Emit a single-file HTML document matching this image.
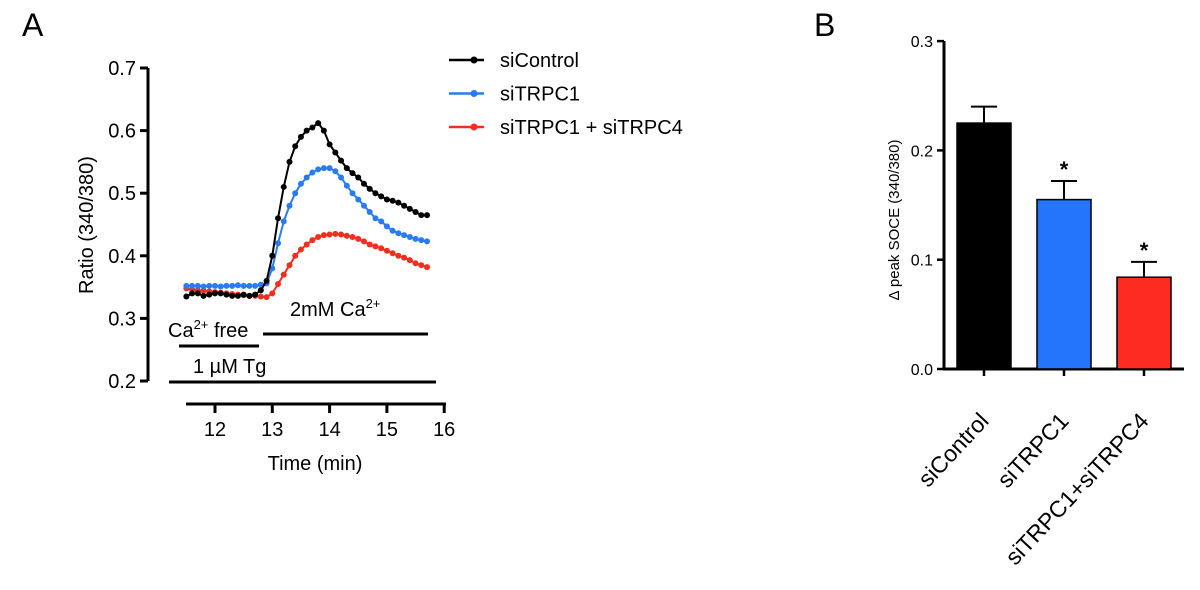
<!DOCTYPE html>
<html><head><meta charset="utf-8"><style>
body{margin:0;background:#fff;}
svg{display:block;font-family:"Liberation Sans",Arial,sans-serif;}
</style></head><body>
<svg id="chart" width="1200" height="590" viewBox="0 0 1200 590">
<text x="22" y="36" font-size="32">A</text>
<text x="814" y="36" font-size="32">B</text>
<g id="pa"></g>
<g id="pb"></g>
</svg>
<script>
const times=[11.5,11.6,11.7,11.8,11.9,12.0,12.1,12.2,12.3,12.4,12.5,12.6,12.7,12.8,12.9,13.0,13.1,13.2,13.3,13.4,13.5,13.6,13.7,13.8,13.9,14.0,14.1,14.2,14.3,14.4,14.5,14.6,14.7,14.8,14.9,15.0,15.1,15.2,15.3,15.4,15.5,15.6,15.7];
const siControl=[0.335,0.34,0.34,0.336,0.338,0.34,0.34,0.338,0.336,0.336,0.338,0.336,0.338,0.345,0.36,0.40,0.46,0.51,0.55,0.575,0.59,0.60,0.605,0.612,0.60,0.578,0.565,0.552,0.54,0.532,0.525,0.515,0.507,0.50,0.495,0.49,0.488,0.485,0.48,0.475,0.47,0.465,0.465];
const siTRPC1=[0.352,0.352,0.352,0.351,0.352,0.352,0.351,0.352,0.352,0.353,0.352,0.352,0.352,0.354,0.356,0.38,0.42,0.455,0.48,0.50,0.515,0.525,0.533,0.538,0.54,0.54,0.535,0.525,0.512,0.50,0.49,0.48,0.47,0.46,0.455,0.447,0.44,0.436,0.433,0.43,0.427,0.425,0.423];
const siTRPC14=[0.348,0.346,0.345,0.344,0.343,0.342,0.341,0.34,0.339,0.338,0.337,0.336,0.336,0.335,0.334,0.34,0.355,0.37,0.385,0.40,0.41,0.418,0.425,0.43,0.433,0.434,0.435,0.434,0.432,0.43,0.427,0.423,0.418,0.415,0.412,0.408,0.404,0.40,0.397,0.393,0.388,0.385,0.382];
const yTicksA=[0.2,0.3,0.4,0.5,0.6,0.7];
const xTicksA=[12,13,14,15,16];
const barCats=["siControl","siTRPC1","siTRPC1+siTRPC4"];
const barVals=[0.225,0.155,0.084];
const barErr=[0.015,0.017,0.014];
const barSig=[false,true,true];
const yTicksB=[0.0,0.1,0.2,0.3];

const NS="http://www.w3.org/2000/svg";
function mk(p,t,a,txt){const e=document.createElementNS(NS,t);for(const k in a)e.setAttribute(k,a[k]);if(txt!==undefined)e.textContent=txt;p.appendChild(e);return e;}
const xA=t=>215+(t-12)*57.3, yA=v=>381-(v-0.2)*626;
const pa=document.getElementById('pa');
let e=mk(pa,'line',{x1:148,y1:68,x2:148,y2:381,stroke:'#000','stroke-width':3});


yTicksA.forEach(v=>{mk(pa,'line',{x1:140,x2:148,y1:yA(v),y2:yA(v),stroke:'#000','stroke-width':3});
 let t=mk(pa,'text',{x:136,y:yA(v)+7,'font-size':20,'text-anchor':'end'},v.toFixed(1));
 
 });
e=mk(pa,'line',{x1:186,y1:404,x2:446,y2:404,stroke:'#000','stroke-width':3});


xTicksA.forEach(v=>{mk(pa,'line',{x1:xA(v),x2:xA(v),y1:404,y2:413,stroke:'#000','stroke-width':3});
 let t=mk(pa,'text',{x:xA(v),y:436,'font-size':20,'text-anchor':'middle'},v);
 
 });
e=mk(pa,'text',{x:0,y:0,'font-size':20,'text-anchor':'middle',transform:'translate(93,225) rotate(-90)'},'Ratio (340/380)');


e=mk(pa,'text',{x:315,y:470,'font-size':20,'text-anchor':'middle'},'Time (min)');


[[179,259,346],[263,428,334],[169,436,382]].forEach(l=>mk(pa,'line',{x1:l[0],x2:l[1],y1:l[2],y2:l[2],stroke:'#000','stroke-width':3}));
e=mk(pa,'text',{x:168,y:337,'font-size':20});e.innerHTML='Ca<tspan dy="-8" font-size="13">2+</tspan><tspan dy="8"> free</tspan>';


e=mk(pa,'text',{x:290,y:316,'font-size':20});e.innerHTML='2mM Ca<tspan dy="-8" font-size="13">2+</tspan>';


e=mk(pa,'text',{x:193,y:373,'font-size':20},'1 µM Tg');


const series=[[siControl,'#000','siControl','series-sicontrol'],[siTRPC1,'#2a7bf0','siTRPC1','series-sitrpc1'],[siTRPC14,'#f0301e','siTRPC1 + siTRPC4','series-sitrpc1-sitrpc4']];
series.slice().reverse().forEach(s=>{
 const g=mk(pa,'g',{});
 
 
 mk(g,'polyline',{points:times.map((t,i)=>xA(t)+','+yA(s[0][i])).join(' '),fill:'none',stroke:s[1],'stroke-width':2});
 times.forEach((t,i)=>mk(g,'circle',{cx:xA(t),cy:yA(s[0][i]),r:3,fill:s[1]}));
});
series.forEach((s,i)=>{const y=60+i*33.5;const g=mk(pa,'g',{});
 
 
 mk(g,'line',{x1:449,x2:484,y1:y,y2:y,stroke:s[1],'stroke-width':2.5});
 mk(g,'circle',{cx:474,cy:y,r:3.5,fill:s[1]});
 mk(g,'text',{x:500,y:y+7,'font-size':20},s[2]);});

const pb=document.getElementById('pb');
const yB=v=>369-v*1093, xB=i=>984+i*80;
e=mk(pb,'line',{x1:944,y1:41,x2:944,y2:370,stroke:'#000','stroke-width':3});


e=mk(pb,'line',{x1:943,y1:369,x2:1184,y2:369,stroke:'#000','stroke-width':3});


yTicksB.forEach(v=>{mk(pb,'line',{x1:937,x2:944,y1:yB(v),y2:yB(v),stroke:'#000','stroke-width':2.5});
 let t=mk(pb,'text',{x:933,y:yB(v)+6,'font-size':16,'text-anchor':'end'},v.toFixed(1));
 
 });
e=mk(pb,'text',{x:0,y:0,'font-size':15,'text-anchor':'middle',transform:'translate(899,220) rotate(-90)'},'Δ peak SOCE (340/380)');


const cols=['#000','#2575fc','#fd2b20'];
barCats.forEach((c,i)=>{const cx=xB(i);
 const g=mk(pb,'g',{});
 
 
 mk(g,'line',{x1:cx,x2:cx,y1:yB(barVals[i]),y2:yB(barVals[i]+barErr[i]),stroke:'#000','stroke-width':2});
 mk(g,'line',{x1:cx-13,x2:cx+13,y1:yB(barVals[i]+barErr[i]),y2:yB(barVals[i]+barErr[i]),stroke:'#000','stroke-width':2});
 mk(g,'rect',{x:cx-27,y:yB(barVals[i]),width:54,height:yB(0)-yB(barVals[i]),fill:cols[i],stroke:'#000','stroke-width':1.5});
 mk(pb,'line',{x1:cx,x2:cx,y1:369,y2:376,stroke:'#000','stroke-width':2.5});
 if(barSig[i]){let s=mk(pb,'text',{x:cx,y:yB(barVals[i]+barErr[i])-4,'font-size':22,'font-weight':'bold','text-anchor':'middle'},'*');
  
  }
 let t=mk(pb,'text',{x:0,y:0,'font-size':23,'text-anchor':'end',transform:`translate(${cx+6},${422}) rotate(-47)`},c);
 
 
});
</script>
</body></html>
